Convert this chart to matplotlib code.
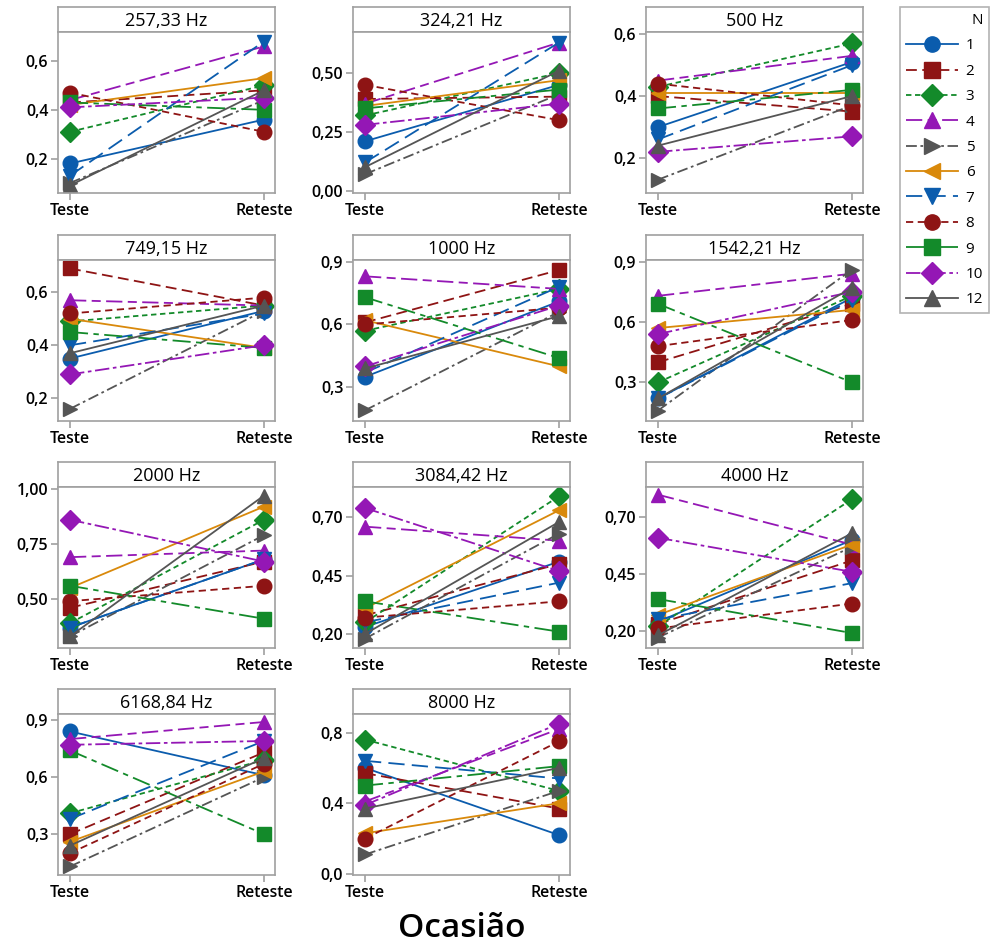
import matplotlib
matplotlib.use('Agg')
import matplotlib.pyplot as plt
from matplotlib.lines import Line2D
from matplotlib.ticker import FuncFormatter

plt.rcParams['font.family'] = ['Open Sans', 'DejaVu Sans']

# --- data ---
subjects = ['1', '2', '3', '4', '5', '6', '7', '8', '9', '10', '12']
occasions = ['Teste', 'Reteste']
freqs = ['257,33 Hz', '324,21 Hz', '500 Hz', '749,15 Hz', '1000 Hz', '1542,21 Hz',
         '2000 Hz', '3084,42 Hz', '4000 Hz', '6168,84 Hz', '8000 Hz']

# values per subject (order of `subjects`)
f257_teste   = [0.18, 0.43, 0.31, 0.44, 0.10, 0.42, 0.13, 0.47, 0.43, 0.41, 0.09]
f257_reteste = [0.36, 0.48, 0.50, 0.66, 0.44, 0.53, 0.68, 0.31, 0.40, 0.45, 0.48]
f324_teste   = [0.21, 0.39, 0.32, 0.37, 0.07, 0.36, 0.12, 0.45, 0.35, 0.28, 0.10]
f324_reteste = [0.45, 0.40, 0.50, 0.63, 0.41, 0.47, 0.63, 0.30, 0.43, 0.37, 0.51]
f500_teste   = [0.30, 0.40, 0.43, 0.45, 0.13, 0.41, 0.26, 0.44, 0.36, 0.22, 0.24]
f500_reteste = [0.51, 0.35, 0.57, 0.53, 0.37, 0.41, 0.50, 0.37, 0.42, 0.27, 0.40]
f749_teste   = [0.35, 0.69, 0.49, 0.57, 0.16, 0.50, 0.40, 0.52, 0.45, 0.29, 0.37]
f749_reteste = [0.53, 0.55, 0.55, 0.55, 0.53, 0.39, 0.52, 0.58, 0.39, 0.40, 0.55]
f1000_teste   = [0.35, 0.61, 0.57, 0.83, 0.19, 0.62, 0.37, 0.60, 0.73, 0.40, 0.39]
f1000_reteste = [0.71, 0.86, 0.77, 0.77, 0.66, 0.40, 0.78, 0.68, 0.44, 0.69, 0.64]
f1542_teste   = [0.22, 0.40, 0.30, 0.73, 0.16, 0.57, 0.22, 0.48, 0.69, 0.54, 0.22]
f1542_reteste = [0.72, 0.69, 0.73, 0.84, 0.86, 0.66, 0.71, 0.61, 0.30, 0.75, 0.77]
f2000_teste   = [0.37, 0.46, 0.39, 0.69, 0.33, 0.55, 0.37, 0.49, 0.56, 0.86, 0.33]
f2000_reteste = [0.68, 0.67, 0.86, 0.72, 0.79, 0.92, 0.68, 0.56, 0.41, 0.67, 0.97]
f3084_teste   = [0.23, 0.28, 0.25, 0.66, 0.18, 0.31, 0.25, 0.27, 0.34, 0.74, 0.20]
f3084_reteste = [0.51, 0.50, 0.79, 0.60, 0.63, 0.73, 0.42, 0.34, 0.21, 0.47, 0.68]
f4000_teste   = [0.24, 0.23, 0.22, 0.80, 0.17, 0.27, 0.25, 0.21, 0.34, 0.61, 0.18]
f4000_reteste = [0.60, 0.51, 0.78, 0.58, 0.57, 0.58, 0.41, 0.32, 0.19, 0.46, 0.63]
f6168_teste   = [0.84, 0.30, 0.41, 0.80, 0.13, 0.26, 0.38, 0.20, 0.74, 0.77, 0.24]
f6168_reteste = [0.61, 0.73, 0.69, 0.89, 0.60, 0.63, 0.79, 0.67, 0.30, 0.79, 0.70]
f8000_teste   = [0.60, 0.57, 0.76, 0.41, 0.11, 0.23, 0.64, 0.20, 0.50, 0.39, 0.37]
f8000_reteste = [0.22, 0.37, 0.47, 0.82, 0.47, 0.40, 0.54, 0.75, 0.61, 0.85, 0.60]

teste = [f257_teste, f324_teste, f500_teste, f749_teste, f1000_teste, f1542_teste,
         f2000_teste, f3084_teste, f4000_teste, f6168_teste, f8000_teste]
reteste = [f257_reteste, f324_reteste, f500_reteste, f749_reteste, f1000_reteste,
           f1542_reteste, f2000_reteste, f3084_reteste, f4000_reteste,
           f6168_reteste, f8000_reteste]

# --- styles ---
BLUE, RED, GREEN, PURPLE, GRAY, ORANGE = '#0B5CAD', '#8E1414', '#138A2A', '#9417B5', '#555555', '#D9890B'
colors = [BLUE, RED, GREEN, PURPLE, GRAY, ORANGE, BLUE, RED, GREEN, PURPLE, GRAY]
markers = ['o', 's', 'D', '^', '>', '<', 'v', 'o', 's', 'D', '^']
dashes = ['-', (0, (6, 3)), (0, (3, 2)), (0, (9, 3, 5, 3)), (0, (6, 2, 1.5, 2)), '-',
          (0, (9, 4)), (0, (4, 2.5)), (0, (10, 3, 3, 3)), (0, (8, 2, 2, 2)), '-']

ylims = [(0.059, 0.719), (-0.01, 0.675), (0.087, 0.607), (0.114, 0.722),
         (0.139, 0.908), (0.108, 0.908), (0.277, 1.009), (0.14, 0.83),
         (0.124, 0.834), (0.085, 0.932), (-0.006, 0.905)]
yticks = [[0.2, 0.4, 0.6], [0.0, 0.25, 0.5], [0.2, 0.4, 0.6], [0.2, 0.4, 0.6],
          [0.3, 0.6, 0.9], [0.3, 0.6, 0.9], [0.5, 0.75, 1.0], [0.2, 0.45, 0.7],
          [0.2, 0.45, 0.7], [0.3, 0.6, 0.9], [0.0, 0.4, 0.8]]
ydec = [1, 2, 1, 1, 1, 1, 2, 2, 2, 1, 1]

W, H = 996, 947
col_left = [58, 353, 646]
col_w = 217
row_top = [7, 235, 462, 689]
strip_h = 25
row_bottom = [193, 421, 648, 875]
SPINE = '#A0A0A0'

fig = plt.figure(figsize=(W / 100, H / 100), dpi=100)

for i, name in enumerate(freqs):
    r, c = divmod(i, 3)
    x0 = col_left[c] / W
    w = col_w / W
    top = row_top[r]
    sb = top + strip_h
    bot = row_bottom[r]
    # strip
    sax = fig.add_axes([x0, 1 - sb / H, w, strip_h / H])
    sax.set_xticks([]); sax.set_yticks([])
    for s in sax.spines.values():
        s.set_color(SPINE); s.set_linewidth(1.2)
    sax.text(0.5, 0.45, name, ha='center', va='center', fontsize=13, fontweight='medium',
             transform=sax.transAxes)
    # plot
    ax = fig.add_axes([x0, 1 - bot / H, w, (bot - sb) / H])
    for k in range(len(subjects)):
        ax.plot([0, 1], [teste[i][k], reteste[i][k]], color=colors[k], marker=markers[k],
                ls=dashes[k], lw=1.3, ms=10.5, mec=colors[k])
    ax.set_xlim(-0.062, 1.057)
    ax.set_ylim(*ylims[i])
    ax.set_xticks([0, 1])
    ax.set_xticklabels(occasions)
    ax.set_yticks(yticks[i])
    d = ydec[i]
    ax.yaxis.set_major_formatter(FuncFormatter(lambda v, p, d=d: f'{v:.{d}f}'.replace('.', ',')))
    ax.tick_params(length=5, width=1.2, color=SPINE, labelsize=11.5, pad=2)
    for s in ax.spines.values():
        s.set_color(SPINE); s.set_linewidth(1.2)
    for lab in ax.get_xticklabels() + ax.get_yticklabels():
        lab.set_fontweight('semibold')

fig.text(462 / W, 1 - 928 / H, 'Ocasião', ha='center', va='center', fontsize=24, fontweight='semibold')

handles = [Line2D([], [], color=colors[k], marker=markers[k], ls=dashes[k], lw=1.3, ms=11)
           for k in range(len(subjects))]
leg = fig.legend(handles, subjects, title='N', loc='upper left',
                 bbox_to_anchor=(900 / W, 1 - 7 / H), fontsize=11, title_fontsize=11,
                 frameon=True, fancybox=False, edgecolor=SPINE, handlelength=3.4,
                 labelspacing=0.68, borderpad=0.4, borderaxespad=0, handletextpad=0.5,
                 alignment='right')
leg.get_frame().set_linewidth(1.2)
for t in leg.get_texts():
    t.set_fontweight('medium')

fig.savefig('out.png', dpi=100)
